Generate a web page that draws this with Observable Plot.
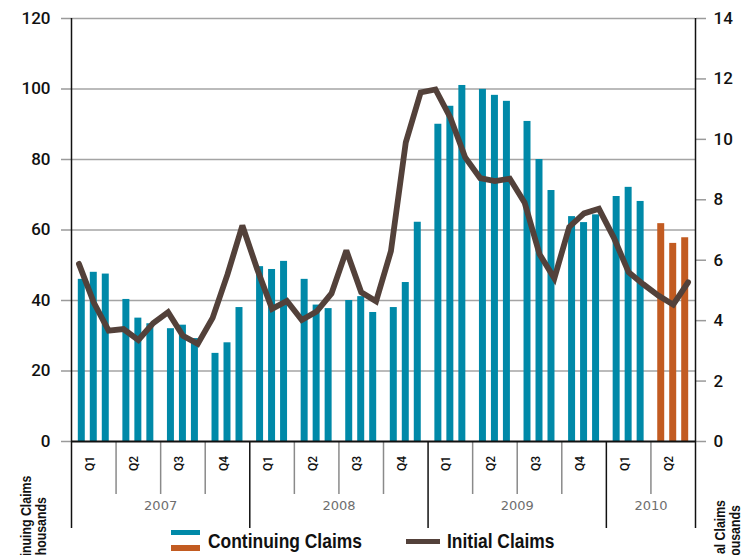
<!DOCTYPE html>
<html><head><meta charset="utf-8">
<script src="https://cdn.jsdelivr.net/npm/d3@7"></script>
<script src="https://cdn.jsdelivr.net/npm/@observablehq/plot@0.6"></script>
<style>
body{margin:0;background:#fff;}
#wrap{position:relative;width:751px;height:555px;overflow:hidden;}
.leg{position:absolute;font-family:"Liberation Sans",Arial,sans-serif;font-weight:bold;font-size:20.5px;color:#111;line-height:20px;white-space:nowrap;transform:scaleX(0.85);transform-origin:0 50%;}
.ttl{position:absolute;font-family:"Liberation Sans",Arial,sans-serif;font-weight:bold;font-size:15px;line-height:15px;color:#111;white-space:nowrap;text-align:center;transform:translate(-50%,-50%) rotate(-90deg) scaleX(0.82);}
.sw{position:absolute;}
</style></head><body>
<div id="wrap"></div>
<script>
// ---- data ----
const years = ["2007", "2008", "2009", "2010"];
const quartersPerYear = [4, 4, 4, 2];
const quarterLabels = ["Q1","Q2","Q3","Q4","Q1","Q2","Q3","Q4","Q1","Q2","Q3","Q4","Q1","Q2"];
const months = d3.utcMonths(new Date(Date.UTC(2007, 0, 1)), new Date(Date.UTC(2010, 6, 1)));
// Continuing claims (left axis, thousands)
const continuingClaims = [
  46.0, 48.0, 47.5, 40.3, 35.0, 33.4, 32.0, 33.0, 29.2, 25.0, 28.0, 38.0,
  49.6, 48.8, 51.1, 46.0, 38.7, 37.7, 40.0, 41.1, 36.6, 38.0, 45.1, 62.2,
  90.0, 95.1, 101.0, 99.9, 98.2, 96.5, 90.8, 80.0, 71.2, 63.8, 62.1, 64.3,
  69.5, 72.1, 68.1, 61.8, 56.2, 57.8
];
// months whose continuing-claims bar is shown in orange
const orangeMonths = ["2010-04", "2010-05", "2010-06"];
// Initial claims (right axis, thousands)
const initialClaims = [
  5.88, 4.60, 3.67, 3.72, 3.36, 3.92, 4.28, 3.50, 3.23, 4.09, 5.53, 7.15,
  5.70, 4.39, 4.65, 4.02, 4.30, 4.90, 6.32, 4.94, 4.64, 6.30, 9.90, 11.55,
  11.65, 10.72, 9.40, 8.72, 8.62, 8.70, 7.90, 6.20, 5.40, 7.10, 7.55, 7.70,
  6.75, 5.60, 5.20, 4.83, 4.53, 5.27
];
const leftTicks = [0, 20, 40, 60, 80, 100, 120];
const rightTicks = [0, 2, 4, 6, 8, 10, 12, 14];
const rightMax = 14, leftMax = 120;
const leftTitle = ["Continuing Claims", "Thousands"];
const rightTitle = ["Initial Claims", "Thousands"];
const legendLabels = ["Continuing Claims", "Initial Claims"];

const teal = "#0089A8", orange = "#C25B21", brown = "#53413A";
const fmt = d3.utcFormat("%Y-%m");
const rows = months.map((d, i) => ({
  i, date: d,
  cont: continuingClaims[i],
  init: initialClaims[i],
  orange: orangeMonths.includes(fmt(d))
}));
// grouped bar positions within each quarter (x in month units)
const barCenter = i => Math.floor(i / 3) * 3 + 1.5 + (i % 3 - 1) * 0.807;
const halfW = 0.235;
const toLeft = v => v * leftMax / rightMax;

const quarterRows = quarterLabels.map((q, k) => ({k, q, x: k * 3 + 1.5}));
let acc = 0;
const yearRows = years.map((y, j) => {
  const start = acc * 3; acc += quartersPerYear[j];
  return {y, start, end: acc * 3, x: (start + acc * 3) / 2};
});
const yearBounds = [0, ...yearRows.map(d => d.end)];
const quarterBounds = d3.range(1, acc).map(k => k * 3).filter(x => !yearBounds.includes(x));

const chart = Plot.plot({
  width: 751, height: 555,
  marginLeft: 71, marginRight: 56, marginTop: 18, marginBottom: 114,
  x: {domain: [0, acc * 3], axis: null},
  y: {domain: [0, leftMax], axis: null},
  style: {fontFamily: "Roboto, sans-serif", background: "transparent", overflow: "visible"},
  marks: [
    Plot.gridY({ticks: leftTicks.filter(t => t > 0), stroke: "#a4a4a4", strokeOpacity: 1, strokeWidth: 1.7}),
    Plot.rectY(rows.filter(d => !d.orange), {x1: d => barCenter(d.i) - halfW, x2: d => barCenter(d.i) + halfW, y: "cont", fill: teal}),
    Plot.rectY(rows.filter(d => d.orange), {x1: d => barCenter(d.i) - halfW, x2: d => barCenter(d.i) + halfW, y: "cont", fill: orange}),
    Plot.axisY({ticks: leftTicks, tickSize: 10, tickPadding: 11, stroke: "#9a9a9a", strokeWidth: 1.5, fill: "#111",
      fontSize: 17, fontWeight: 500, label: null}),
    Plot.axisY({anchor: "right", ticks: rightTicks.map(toLeft), tickFormat: d => Math.round(d * rightMax / leftMax),
      tickSize: 10, tickPadding: 8, stroke: "#9a9a9a", strokeWidth: 1.5, fill: "#111", fontSize: 17, fontWeight: 500, label: null}),
    Plot.axisX({ticks: quarterBounds, tickSize: 53, stroke: "#8a8a8a", strokeWidth: 1.5, tickFormat: () => "", label: null}),
    Plot.axisX({ticks: yearBounds, tickSize: 87, stroke: "#111", strokeWidth: 1.5, tickFormat: () => "", label: null}),
    Plot.ruleY([0], {stroke: "#111", strokeWidth: 2, dx: 0}),
    Plot.ruleX([0, acc * 3], {stroke: "#111", strokeWidth: 1.5}),
    Plot.text(quarterRows, {x: "x", text: "q", frameAnchor: "bottom", dy: 22, rotate: -90, fontSize: 12, fontWeight: 500, fill: "#111"}),
    Plot.text(yearRows, {x: "x", text: "y", frameAnchor: "bottom", dy: 68, fontSize: 13, fill: "#6e6e6e", fontFamily: "DejaVu Sans, sans-serif"}),
    Plot.line(rows, {x: d => d.i + 0.5, y: d => toLeft(d.init), stroke: brown, strokeWidth: 5.8, strokeLinejoin: "miter", strokeMiterlimit: 3})
  ]
});
const wrap = document.getElementById("wrap");
wrap.appendChild(chart);
chart.style.position = "absolute"; chart.style.left = "0"; chart.style.top = "0";

function el(cls, style, html) {
  const e = document.createElement("div"); e.className = cls;
  Object.assign(e.style, style); if (html != null) e.innerHTML = html; wrap.appendChild(e); return e;
}
// axis titles (rotated)
el("ttl", {left: "33px", top: "530px"}, leftTitle.join("<br>"));
el("ttl", {left: "727px", top: "538px"}, rightTitle.join("<br>"));
// legend
el("sw", {left: "171px", top: "530px", width: "29px", height: "5px", background: teal});
el("sw", {left: "171px", top: "545px", width: "29px", height: "6px", background: orange});
el("leg", {left: "208px", top: "531px"}).textContent = legendLabels[0];
el("sw", {left: "406px", top: "539px", width: "34px", height: "5px", background: brown});
el("leg", {left: "447px", top: "531px"}).textContent = legendLabels[1];
</script>
</body></html>
